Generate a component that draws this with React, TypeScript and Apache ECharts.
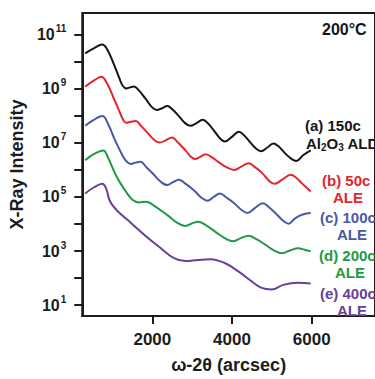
import React, { useEffect, useRef } from "react";
import * as echarts from "echarts";

// x in arcsec, y as log10(intensity)
const blackX = [312, 528, 744, 864, 1032, 1176, 1260, 1344, 1440, 1536, 1656, 1824, 1990, 2112, 2230, 2376, 2500, 2664, 2830, 2952, 3100, 3264, 3380, 3528, 3700, 3816, 3980, 4176, 4300, 4464, 4610, 4728, 4880, 5040, 5160, 5328, 5500, 5616, 5784, 5976];
const blackLog = [10.31, 10.49, 10.64, 10.46, 9.91, 9.37, 9.1, 9.01, 9.05, 9.08, 8.95, 8.64, 8.32, 8.21, 8.27, 8.36, 8.24, 7.99, 7.72, 7.63, 7.72, 7.85, 7.74, 7.49, 7.16, 7.05, 7.2, 7.41, 7.28, 7.01, 6.78, 6.69, 6.82, 6.98, 6.88, 6.62, 6.4, 6.33, 6.54, 6.72];

const redX = [312, 528, 720, 864, 1032, 1200, 1270, 1344, 1460, 1584, 1720, 1896, 2070, 2184, 2340, 2496, 2620, 2832, 2960, 3072, 3200, 3336, 3460, 3672, 3860, 4056, 4230, 4416, 4560, 4752, 4930, 5064, 5270, 5472, 5620, 5736, 5976];
const redLog = [9.08, 9.3, 9.44, 9.19, 8.64, 8.07, 7.84, 7.74, 7.78, 7.81, 7.62, 7.34, 7.08, 7.01, 7.1, 7.2, 7.05, 6.72, 6.5, 6.4, 6.48, 6.58, 6.5, 6.28, 6.1, 6.0, 6.12, 6.25, 6.12, 5.89, 5.6, 5.49, 5.65, 5.82, 5.7, 5.53, 5.2];

const blueX = [312, 528, 744, 888, 1056, 1248, 1360, 1464, 1580, 1704, 1850, 2016, 2220, 2376, 2520, 2664, 2820, 3048, 3240, 3384, 3540, 3696, 3860, 4056, 4240, 4392, 4580, 4776, 4930, 5112, 5300, 5424, 5560, 5688, 5850, 5976];
const blueLog = [7.63, 7.85, 7.99, 7.7, 7.12, 6.54, 6.3, 6.22, 6.27, 6.3, 6.1, 5.86, 5.55, 5.44, 5.55, 5.64, 5.5, 5.24, 4.96, 4.86, 5.0, 5.13, 4.98, 4.77, 4.52, 4.41, 4.6, 4.77, 4.62, 4.37, 4.1, 4.01, 4.18, 4.3, 4.38, 4.41];

const greenX = [312, 528, 768, 888, 1104, 1368, 1500, 1656, 1850, 2000, 2376, 2650, 2832, 2990, 3144, 3330, 3576, 3850, 4032, 4220, 4416, 4600, 4824, 5060, 5256, 5450, 5664, 5820, 5976];
const greenLog = [6.36, 6.58, 6.72, 6.45, 5.75, 5.13, 4.9, 4.8, 4.82, 4.72, 4.33, 4.02, 3.93, 4.02, 4.08, 3.97, 3.72, 3.45, 3.36, 3.48, 3.57, 3.45, 3.25, 3.02, 2.92, 3.02, 3.1, 3.05, 2.99];

const purpleX = [312, 528, 744, 840, 936, 1104, 1464, 1824, 2184, 2544, 2832, 3144, 3456, 3816, 4176, 4464, 4728, 4992, 5304, 5664, 5976];
const purpleLog = [5.13, 5.35, 5.49, 5.31, 4.84, 4.51, 4.04, 3.57, 3.14, 2.74, 2.63, 2.67, 2.7, 2.56, 2.23, 1.91, 1.65, 1.58, 1.76, 1.83, 1.8];

const xTicks = [2000, 4000, 6000];
const yTicks = [1, 2, 3, 4, 5, 6, 7, 8, 9, 10, 11];
const yLabels = [1, 3, 5, 7, 9, 11];

const FONT = '"Liberation Sans", Arial, sans-serif';
const AX = "#1c1c1c";

const COLORS = {
  black: "#151515",
  red: "#e5242c",
  blue: "#4a58a8",
  green: "#1f9a44",
  purple: "#6a3f98",
};

const pair = (xs: number[], ys: number[]) => xs.map((v, i) => [v, ys[i]]);

export default function App() {
  const ref = useRef<HTMLDivElement>(null);
  useEffect(() => {
    if (!ref.current) return;
    const chart = echarts.init(ref.current, undefined, { renderer: "svg" });
    const mk = (name: string, xs: number[], ys: number[], color: string) => ({
      name,
      type: "line",
      data: pair(xs, ys),
      smooth: 0.4,
      showSymbol: false,
      lineStyle: { color, width: 2 },
      itemStyle: { color },
      z: 3,
    });
    const txt = (x: number, y: number, text: string, color: string, extra: any = {}) => ({
      type: "text",
      x,
      y,
      style: {
        text,
        fill: color,
        font: `bold 15px ${FONT}`,
        verticalAlign: "middle",
        align: "left",
        ...extra,
      },
      z: 10,
    });
    chart.setOption({
      animation: false,
      backgroundColor: "#ffffff",
      grid: {
        left: 79,
        top: 13,
        width: 306,
        height: 309,
        show: true,
        borderColor: AX,
        borderWidth: 2,
      },
      xAxis: {
        type: "value",
        min: 240,
        max: 7590,
        name: "ω-2θ (arcsec)",
        nameLocation: "middle",
        nameGap: 40,
        nameTextStyle: { fontFamily: FONT, fontWeight: "bold", fontSize: 18, color: AX },
        axisLine: { show: true, lineStyle: { color: AX, width: 2 } },
        axisTick: { show: true, length: 8, lineStyle: { color: AX, width: 2 }, customValues: xTicks },
        axisLabel: {
          show: true,
          margin: 15,
          fontFamily: FONT,
          fontWeight: "bold",
          fontSize: 17,
          color: AX,
          customValues: xTicks,
          formatter: (v: number) => String(Math.round(v)),
        },
        splitLine: { show: false },
      },
      yAxis: {
        type: "value",
        min: 0.6,
        max: 11.8,
        name: "X-Ray Intensity",
        nameLocation: "middle",
        nameGap: 43,
        nameTextStyle: { fontFamily: FONT, fontWeight: "bold", fontSize: 18, color: AX },
        axisLine: { show: true, lineStyle: { color: AX, width: 2 } },
        axisTick: { show: true, length: 8, lineStyle: { color: AX, width: 2 }, customValues: yTicks },
        axisLabel: {
          show: true,
          margin: 16,
          customValues: yLabels,
          formatter: (v: number) => `{b|10}{s|${Math.round(v)}}`,
          rich: {
            b: { fontFamily: FONT, fontWeight: "bold", fontSize: 16, color: AX },
            s: { fontFamily: FONT, fontWeight: "bold", fontSize: 10, color: AX, padding: [0, 0, 12, 1] },
          },
        },
        splitLine: { show: false },
      },
      series: [
        mk("(a) 150c Al2O3 ALD", blackX, blackLog, COLORS.black),
        mk("(b) 50c ALE", redX, redLog, COLORS.red),
        mk("(c) 100c ALE", blueX, blueLog, COLORS.blue),
        mk("(d) 200c ALE", greenX, greenLog, COLORS.green),
        mk("(e) 400c ALE", purpleX, purpleLog, COLORS.purple),
      ],
      graphic: [
        txt(322, 29, "200°C", COLORS.black, { font: `bold 16px ${FONT}` }),
        txt(305, 125, "(a) 150c", COLORS.black),
        txt(306, 143, "Al{s|2}O{s|3} ALD", COLORS.black, {
          rich: { s: { font: `bold 10px ${FONT}`, fill: COLORS.black, padding: [8, 0, 0, 0] } },
        }),
        txt(322, 180, "(b) 50c", COLORS.red),
        txt(333, 197, "ALE", COLORS.red),
        txt(320, 217, "(c) 100c", COLORS.blue),
        txt(337, 234, "ALE", COLORS.blue),
        txt(319, 255, "(d) 200c", COLORS.green),
        txt(335, 272, "ALE", COLORS.green),
        txt(320, 293, "(e) 400c", COLORS.purple),
        txt(337, 310, "ALE", COLORS.purple),
      ],
    });
    return () => chart.dispose();
  }, []);
  return (
    <div
      ref={ref}
      style={{ position: "fixed", left: 0, top: 0, width: 375, height: 379, background: "#fff" }}
    />
  );
}
